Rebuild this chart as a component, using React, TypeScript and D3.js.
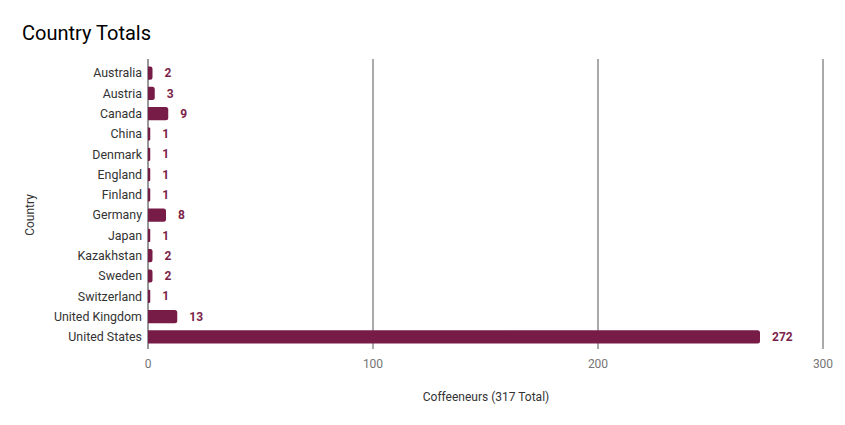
import React from "react";
import * as d3 from "d3";

const countries = ["Australia","Austria","Canada","China","Denmark","England","Finland","Germany","Japan","Kazakhstan","Sweden","Switzerland","United Kingdom","United States"];
const totals = [2,3,9,1,1,1,1,8,1,2,2,1,13,272];
const xTicks = [0,100,200,300];

export default function App() {
  const W = 845, H = 425;
  const x = d3.scaleLinear().domain([0,300]).range([148,823]);
  const y = d3.scaleBand<string>().domain(countries).range([63,347]).paddingInner(0.35).paddingOuter(0.175);
  const font = "Roboto, sans-serif";
  const color = "#771c47";
  return (
    <svg width={W} height={H} style={{position:"absolute",left:0,top:0,background:"#fff"}} fontFamily={font}>
      <text x={22} y={40} fontSize={20} fill="#000">Country Totals</text>
      {xTicks.map(t => (
        <g key={t}>
          <line x1={x(t)} x2={x(t)} y1={59} y2={349} stroke={t===0?"#333":"#555"} strokeWidth={1}/>
          <text x={x(t)} y={368} fontSize={12} fill="#757575" textAnchor="middle">{t}</text>
        </g>
      ))}
      {countries.map((c,i) => {
        const yy = y(c)!; const bh = y.bandwidth(); const v = totals[i];
        const x0 = x(0), x1 = x(v);
        const w = x1 - x0; const r = Math.min(2.5, w/2);
        const path = `M${x0},${yy} H${x1-r} Q${x1},${yy} ${x1},${yy+r} V${yy+bh-r} Q${x1},${yy+bh} ${x1-r},${yy+bh} H${x0} Z`;
        return (
          <g key={c}>
            <path d={path} fill={color}/>
            <text x={142} y={yy+bh/2} dy="0.35em" fontSize={12.4} fill="#333" textAnchor="end">{c}</text>
            <text x={x1+12} y={yy+bh/2} dy="0.35em" fontSize={12} fontWeight="bold" fill="#7b1f4a">{v}</text>
          </g>
        );
      })}
      <text x={486} y={401} fontSize={12} fill="#333" textAnchor="middle">Coffeeneurs (317 Total)</text>
      <text transform={`translate(34,215) rotate(-90)`} fontSize={12} fill="#333" textAnchor="middle">Country</text>
    </svg>
  );
}
